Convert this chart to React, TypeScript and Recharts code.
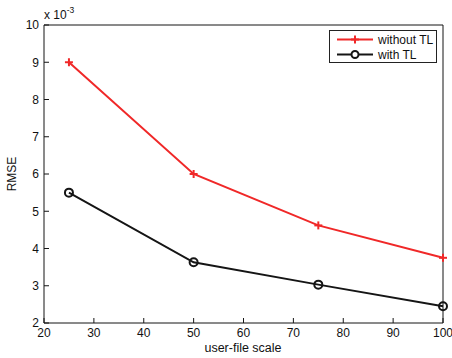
import { Legend, Line, LineChart, XAxis, YAxis } from "recharts";

const scales = [25, 50, 75, 100];
const withoutTL = [9.0, 6.0, 4.62, 3.75];
const withTL = [5.5, 3.63, 3.03, 2.45];
const xTicks = [20, 30, 40, 50, 60, 70, 80, 90, 100];
const yTicks = [2, 3, 4, 5, 6, 7, 8, 9, 10];

const data = scales.map((s, i) => ({ scale: s, without: withoutTL[i], with: withTL[i] }));

const RED = "#f02828";
const BLACK = "#151515";
const TEXT = "#111";
const FONT = "'Liberation Sans', Arial, sans-serif";

const PlusDot = (props: any) => {
  const { cx, cy } = props;
  if (cx == null || cy == null) return null;
  return (
    <g>
      <line x1={cx - 4} x2={cx + 4} y1={cy} y2={cy} stroke={RED} strokeWidth={2} />
      <line x1={cx} x2={cx} y1={cy - 4} y2={cy + 4} stroke={RED} strokeWidth={2} />
    </g>
  );
};

const CircleDot = (props: any) => {
  const { cx, cy } = props;
  if (cx == null || cy == null) return null;
  return <circle cx={cx} cy={cy} r={4} fill="none" stroke={BLACK} strokeWidth={2} />;
};

const LegendBox = () => (
  <div
    style={{
      border: "1px solid #222",
      background: "#fff",
      width: 106,
      height: 31,
      fontFamily: FONT,
      fontSize: 12,
      color: TEXT,
      boxSizing: "content-box",
    }}
  >
    {[
      { name: "without TL", color: RED, marker: "plus" },
      { name: "with TL", color: BLACK, marker: "circle" },
    ].map((item, i) => (
      <div key={i} style={{ display: "flex", alignItems: "center", height: 15, marginTop: i === 0 ? 1 : 0 }}>
        <svg width={48} height={15} style={{ display: "block" }}>
          <line x1={7} x2={43} y1={7.5} y2={7.5} stroke={item.color} strokeWidth={2} />
          {item.marker === "plus" ? (
            <g>
              <line x1={21} x2={29} y1={7.5} y2={7.5} stroke={item.color} strokeWidth={2} />
              <line x1={25} x2={25} y1={3.5} y2={11.5} stroke={item.color} strokeWidth={2} />
            </g>
          ) : (
            <circle cx={25} cy={7.5} r={3.5} fill="#fff" stroke={item.color} strokeWidth={2} />
          )}
        </svg>
        <span>{item.name}</span>
      </div>
    ))}
  </div>
);

export default function App() {
  return (
    <div style={{ position: "absolute", left: 0, top: 0, background: "#fff" }}>
      <LineChart width={452} height={358} data={data} margin={{ top: 24, right: 8, bottom: 0, left: 0 }}>
        <XAxis
          dataKey="scale"
          type="number"
          domain={[20, 100]}
          ticks={xTicks}
          tickSize={-5}
          tickMargin={10}
          height={35}
          stroke={BLACK}
          tick={{ fill: TEXT, fontSize: 12, fontFamily: FONT }}
          label={(p: any) => (
            <text x={243} y={352} textAnchor="middle" fontSize={12.5} fontFamily={FONT} fill={TEXT}>
              user-file scale
            </text>
          )}
        />
        <XAxis
          xAxisId="top"
          orientation="top"
          dataKey="scale"
          type="number"
          domain={[20, 100]}
          ticks={xTicks}
          tickSize={-5}
          height={1}
          tick={false}
          stroke={BLACK}
          label={(p: any) => (
            <text x={44} y={19} fontSize={12} fontFamily={FONT} fill={TEXT}>
              x 10
              <tspan dy={-6} fontSize={8.5}>
                -3
              </tspan>
            </text>
          )}
        />
        <YAxis
          type="number"
          domain={[2, 10]}
          ticks={yTicks}
          tickSize={-5}
          tickMargin={10}
          width={44}
          stroke={BLACK}
          tick={{ fill: TEXT, fontSize: 12, fontFamily: FONT }}
          label={(p: any) => (
            <text x={16} y={174} transform="rotate(-90 16 174)" textAnchor="middle" fontSize={12} fontFamily={FONT} fill={TEXT}>
              RMSE
            </text>
          )}
        />
        <YAxis
          yAxisId="right"
          orientation="right"
          type="number"
          domain={[2, 10]}
          ticks={yTicks}
          tickSize={-5}
          width={1}
          tick={false}
          stroke={BLACK}
        />
        <Legend
          layout="vertical"
          align="center"
          verticalAlign="middle"
          content={() => <LegendBox />}
          wrapperStyle={{ position: "absolute", left: 329, top: 30, width: 108, height: 33 }}
        />
        <Line
          dataKey="without"
          name="without TL"
          stroke={RED}
          strokeWidth={2}
          dot={<PlusDot />}
          activeDot={false}
          isAnimationActive={false}
        />
        <Line
          dataKey="with"
          name="with TL"
          stroke={BLACK}
          strokeWidth={2}
          dot={<CircleDot />}
          activeDot={false}
          isAnimationActive={false}
        />
      </LineChart>
    </div>
  );
}
